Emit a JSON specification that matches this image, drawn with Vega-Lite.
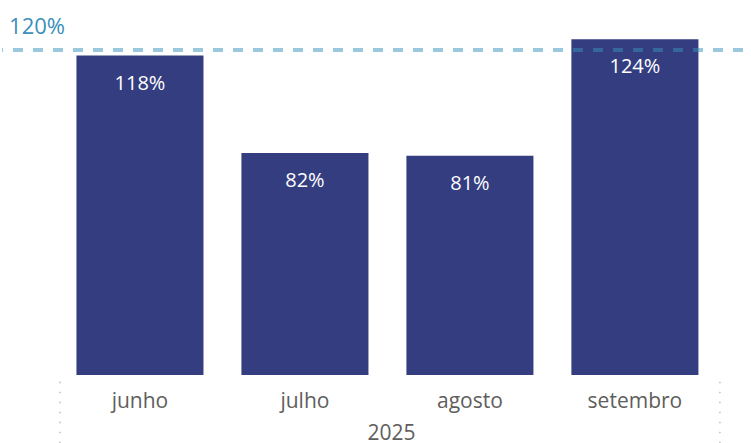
{
  "$schema": "https://vega.github.io/schema/vega-lite/v6.json",
  "width": 751,
  "height": 375,
  "padding": 0,
  "background": "white",
  "config": {
    "view": {"stroke": null},
    "font": "Open Sans"
  },
  "data": {
    "values": [
      {"mes": "junho", "ano": "2025", "valor": 1.18},
      {"mes": "julho", "ano": "2025", "valor": 0.82},
      {"mes": "agosto", "ano": "2025", "valor": 0.81},
      {"mes": "setembro", "ano": "2025", "valor": 1.24}
    ]
  },
  "encoding": {
    "x": {
      "field": "mes",
      "type": "nominal",
      "sort": null,
      "scale": {"paddingInner": 0.23, "paddingOuter": 0.391, "align": 0.577},
      "axis": {
        "title": "2025",
        "domain": false,
        "ticks": false,
        "tickSize": 0,
        "grid": false,
        "labelAngle": 0,
        "labelFont": "Open Sans",
        "labelFontSize": 21,
        "labelColor": "#605E5C",
        "labelBaseline": "alphabetic",
        "labelPadding": 32,
        "titleFont": "Open Sans",
        "titleFontSize": 21,
        "titleFontWeight": "normal",
        "titleColor": "#605E5C",
        "titleBaseline": "alphabetic",
        "titleAlign": "center",
        "titleX": 389,
        "titleY": 64
      }
    },
    "y": {
      "field": "valor",
      "type": "quantitative",
      "scale": {"domain": [0, 1.385], "nice": false, "zero": true},
      "axis": null
    }
  },
  "layer": [
    {
      "mark": {"type": "bar", "color": "#343D7F"}
    },
    {
      "mark": {
        "type": "text",
        "color": "white",
        "fontSize": 20,
        "font": "Open Sans",
        "baseline": "alphabetic",
        "dy": 34
      },
      "encoding": {
        "text": {"field": "valor", "type": "quantitative", "format": ".0%"}
      }
    },
    {
      "data": {"values": [{"meta": 1.2}]},
      "mark": {
        "type": "rule",
        "color": "#3591BB",
        "opacity": 0.5,
        "strokeWidth": 4,
        "strokeDash": [10, 10],
        "strokeDashOffset": 10
      },
      "encoding": {
        "x": null,
        "y": {"field": "meta", "type": "quantitative"}
      }
    },
    {
      "data": {"values": [{"meta": 1.2, "mes": "junho"}]},
      "mark": {
        "type": "text",
        "color": "#3A8FBB",
        "fontSize": 22,
        "font": "Open Sans",
        "align": "left",
        "baseline": "alphabetic",
        "dy": -16
      },
      "encoding": {
        "x": {"field": "mes", "type": "nominal", "sort": null, "bandPosition": -0.53},
        "y": {"field": "meta", "type": "quantitative"},
        "text": {"field": "meta", "type": "quantitative", "format": ".0%"}
      }
    },
    {
      "data": {"values": [{"mes": "junho", "y0": -0.025, "y1": -0.26}]},
      "mark": {"type": "rule", "color": "#BDBDBD", "strokeWidth": 1.5, "strokeDash": [1.5, 8.5]},
      "encoding": {
        "x": {"field": "mes", "type": "nominal", "sort": null, "bandPosition": -0.13},
        "y": {"field": "y0", "type": "quantitative"},
        "y2": {"field": "y1"}
      }
    },
    {
      "data": {"values": [{"mes": "setembro", "y0": -0.025, "y1": -0.26}]},
      "mark": {"type": "rule", "color": "#BDBDBD", "strokeWidth": 1.5, "strokeDash": [1.5, 8.5]},
      "encoding": {
        "x": {"field": "mes", "type": "nominal", "sort": null, "bandPosition": 1.169},
        "y": {"field": "y0", "type": "quantitative"},
        "y2": {"field": "y1"}
      }
    }
  ]
}
